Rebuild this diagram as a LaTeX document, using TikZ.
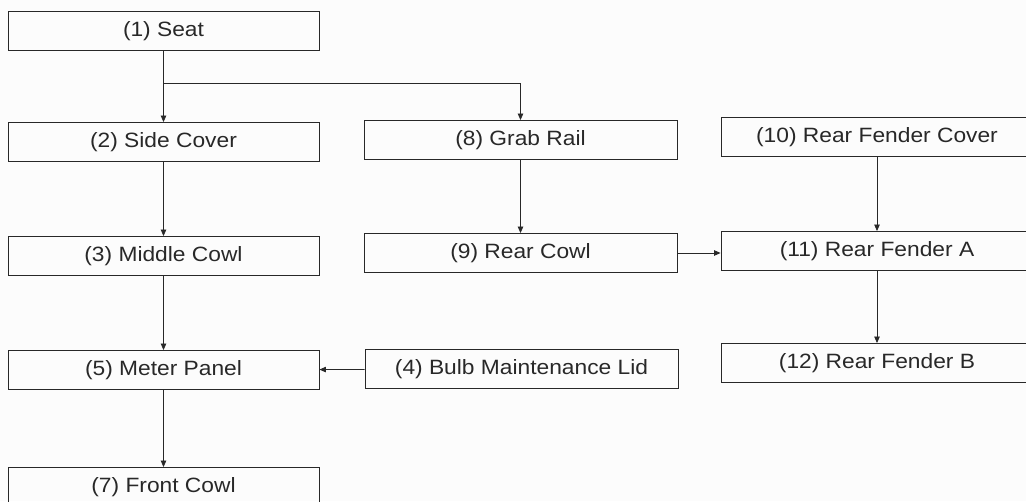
\documentclass[tikz,border=0pt]{standalone}
\usepackage{fontspec}
\usepackage{tikz}
\usetikzlibrary{arrows.meta,positioning}
\newfontfamily\lblfont{Liberation Sans}[FakeStretch=1.1]
\definecolor{inkgray}{RGB}{40,40,40}
\definecolor{papr}{RGB}{252,252,252}
\tikzset{
  part/.style={draw=inkgray, line width=0.9pt, minimum width=311pt, minimum height=39pt,
    inner sep=0pt, text=inkgray, font=\lblfont\fontsize{20.7}{24}\selectfont},
  wide/.style={part, minimum width=312pt},
  conn/.style={-{Triangle[length=6.5pt,width=5.5pt]}, inkgray, line width=0.8pt},
  plain/.style={inkgray, line width=0.8pt},
}

\begin{document}
\begin{tikzpicture}[x=1pt, y=1pt]
  \fill[papr] (0,0) rectangle (1026,-501);
  \useasboundingbox (0,0) rectangle (1026,-501);
  % left column
  \node[part] (seat)  at (163.5,-31)  {(1) Seat};
  \node[part] (side)  at (163.5,-142) {(2) Side Cover};
  \node[part] (mid)   at (163.5,-256) {(3) Middle Cowl};
  \node[part] (meter) at (163.5,-370) {(5) Meter Panel};
  \node[part] (front) at (163.5,-487) {(7) Front Cowl};
  % middle column
  \node[part, minimum width=313pt] (grab)  at (520.5,-140) {(8) Grab Rail};
  \node[part, minimum width=313pt] (rcowl) at (520.5,-253) {(9) Rear Cowl};
  \node[part, minimum width=313pt] (bulb)  at (521.5,-369) {(4) Bulb Maintenance Lid};
  % right column, cut off at the page edge
  \node[wide] (fcov) at (877,-137) {(10) Rear Fender Cover};
  \node[wide] (fa)   at (877,-251) {(11) Rear Fender A};
  \node[wide] (fb)   at (877,-363) {(12) Rear Fender B};
  \coordinate (split) at (seat.south |- 0,-83);
  \draw[plain] (seat) -- (split);
  \draw[conn] (split) -- (side);
  \draw[conn] (split) -| (grab);
  \draw[conn] (side) -- (mid);
  \draw[conn] (mid) -- (meter);
  \draw[conn] (meter) -- (front);
  \draw[conn] (grab) -- (rcowl);
  \draw[conn] (bulb) -- (meter);
  \draw[conn] (rcowl.east) -- (fa.west |- rcowl.east);
  \draw[conn] (fcov) -- (fa);
  \draw[conn] (fa) -- (fb);
\end{tikzpicture}
\end{document}
